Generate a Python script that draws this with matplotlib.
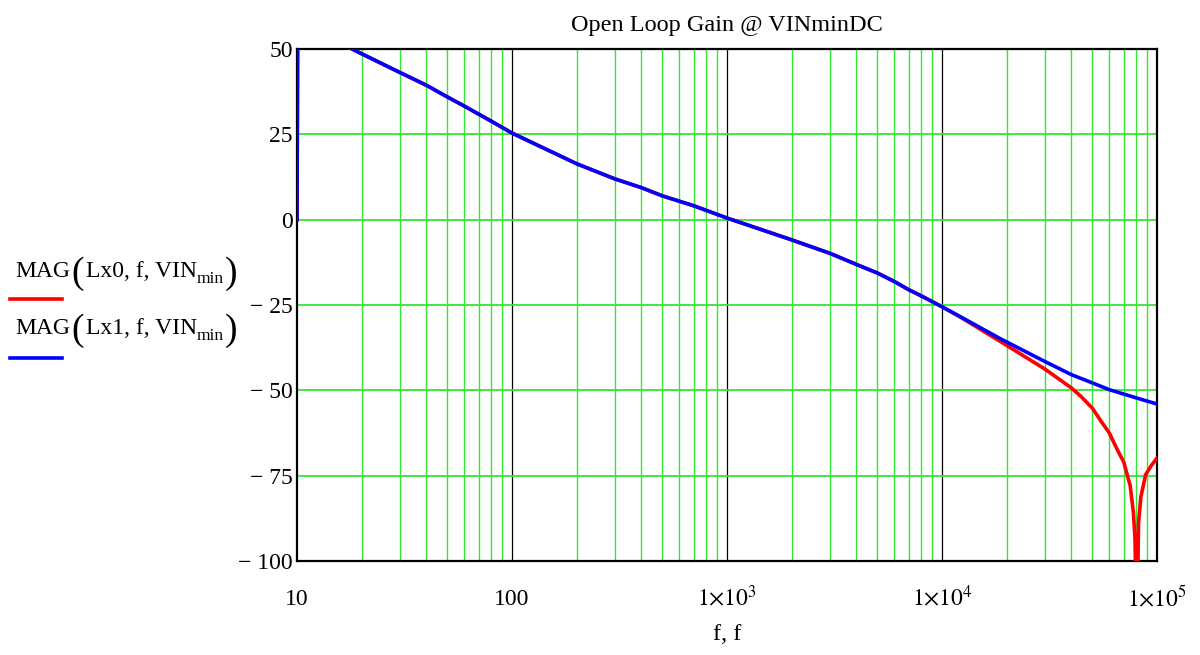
import matplotlib.pyplot as plt
from matplotlib.lines import Line2D
from matplotlib.ticker import FixedLocator, NullFormatter
from matplotlib.transforms import IdentityTransform

# values (frequency in Hz, gain in dB)
f_low = [10, 10.1, 14, 19.6, 30, 40, 50, 60, 80, 100, 200, 300, 400, 500,
         700, 1000, 2000, 3000, 4000, 5000, 6000, 7000, 8000, 10000]
g_low = [0, 80, 53.5, 48.9, 43.2, 39.4, 36.0, 33.3, 28.9, 25.4, 16.4, 12.0,
         9.4, 7.0, 4.1, 0.5, -5.9, -9.8, -13.1, -15.6, -18.1, -20.5, -22.3,
         -25.5]

f_lx0_hi = [12000, 18600, 30000, 40000, 44000, 50000, 55000, 60000, 65000,
            70000, 75000, 77600, 79000, 80500, 82000, 84100, 88500, 94100,
            100000]
g_lx0_hi = [-28.3, -35.6, -43.7, -49.3, -51.6, -55.2, -59.1, -62.5, -67.1,
            -71.0, -77.9, -85.7, -93.5, -125, -89, -81.2, -74.7, -72.0, -69.8]

f_lx1_hi = [12000, 18600, 30000, 40000, 50000, 60000, 80000, 100000]
g_lx1_hi = [-28.2, -34.8, -41.5, -45.4, -47.8, -49.8, -52.2, -54.0]

y_ticks = [50, 25, 0, -25, -50, -75, -100]
y_labels = ['50', '25', '0', '\u2212 25', '\u2212 50', '\u2212 75', '\u2212 100']
x_ticks = [10, 100, 1000, 10000, 100000]
x_labels = ['10', '100', r'$1{\times}10^{3}$', r'$1{\times}10^{4}$', r'$1{\times}10^{5}$']

legend_args = ['Lx0', 'Lx1']
legend_colors = ['#ff0000', '#0000ff']

plt.rcParams['font.family'] = ['Liberation Serif', 'DejaVu Serif']
plt.rcParams['mathtext.fontset'] = 'stix'

green = '#33e633'
H = 655

fig = plt.figure(figsize=(12, 6.55), dpi=100)
ax = fig.add_axes([0.2475, 0.1435, 0.9642 - 0.2475, 0.925 - 0.1435])

ax.set_xscale('log')
ax.set_xlim(10, 100000)
ax.set_ylim(-100, 50)

# grid: green minor verticals, black decade lines, green horizontals
minors = [m * 10 ** d for d in range(1, 5) for m in range(2, 10)]
for x in minors:
    ax.axvline(x, color=green, lw=1.0, zorder=1)
for x in x_ticks[1:-1]:
    ax.axvline(x, color='black', lw=0.9, zorder=1)
for y in y_ticks[1:-1]:
    ax.axhline(y, color=green, lw=1.3, zorder=1)

ax.plot(f_low + f_lx0_hi, g_low + g_lx0_hi, color=legend_colors[0], lw=2.6, zorder=3)
ax.plot(f_low + f_lx1_hi, g_low + g_lx1_hi, color=legend_colors[1], lw=2.6, zorder=4)

ax.xaxis.set_major_locator(FixedLocator(x_ticks))
ax.xaxis.set_minor_formatter(NullFormatter())
ax.set_xticklabels(x_labels)
ax.set_yticks(y_ticks)
ax.set_yticklabels(y_labels)
ax.tick_params(axis='both', which='both', length=0, labelsize=17)
ax.tick_params(axis='x', pad=32)
ax.tick_params(axis='y', pad=3)
for lab in ax.get_xticklabels():
    lab.set_verticalalignment('baseline')
for s in ax.spines.values():
    s.set_linewidth(1.6)

ax.set_title('Open Loop Gain @ VINminDC', fontsize=17.5, pad=13)
ax.set_xlabel('f, f', fontsize=17.5, labelpad=10)

# legend on the left: text with tall parentheses, coloured line below
renderer = fig.canvas.get_renderer()
px = IdentityTransform()


def put(x, y, s, size):
    t = fig.text(x, y, s, fontsize=size, va='baseline', ha='left', transform=px)
    return t.get_window_extent(renderer).x1


for i, name in enumerate(legend_args):
    base = H - (277 + 57 * i)
    x = put(15, base, 'MAG', 17)
    x = put(x + 1, base - 6, '(', 27)
    x = put(x + 2, base, name + ', f, VIN', 17)
    x = put(x, base - 6, 'min', 12.5)
    put(x + 1, base - 6, ')', 27)
    yl = (H - (299 + 59 * i)) / H
    fig.add_artist(Line2D([10 / 1200, 62 / 1200], [yl, yl],
                          color=legend_colors[i], lw=2.6))

fig.savefig('out.png', dpi=100)
